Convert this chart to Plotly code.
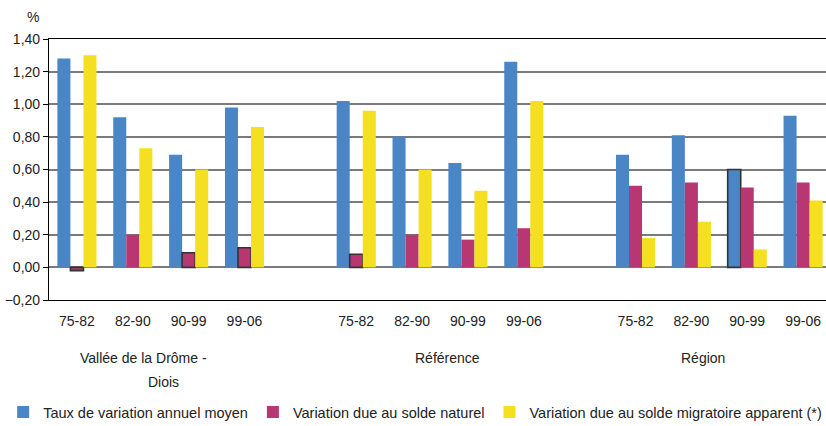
import plotly.graph_objects as go

groups = ["Vallée de la Drôme -<br>Diois", "Référence", "Région"]
periods = ["75-82", "82-90", "90-99", "99-06"]

series_names = [
    "Taux de variation annuel moyen",
    "Variation due au solde naturel",
    "Variation due au solde migratoire apparent (*)",
]

# values per group (Vallée, Référence, Région), each listing the 4 periods
taux_annuel = [1.28, 0.92, 0.69, 0.98,
               1.02, 0.80, 0.64, 1.26,
               0.69, 0.81, 0.60, 0.93]
solde_naturel = [-0.02, 0.20, 0.09, 0.12,
                 0.08, 0.20, 0.17, 0.24,
                 0.50, 0.52, 0.49, 0.52]
solde_migratoire = [1.30, 0.73, 0.60, 0.86,
                    0.96, 0.60, 0.47, 1.02,
                    0.18, 0.28, 0.11, 0.41]

# bars drawn with a dark outline in the original
outlined_taux = [False, False, False, False,
                 False, False, False, False,
                 False, False, True, False]
outlined_naturel = [True, False, True, True,
                    True, False, False, False,
                    False, False, False, False]
outlined_migr = [False] * 12

colors = ["#4a86c6", "#b83772", "#f4e020"]
FONT = "Liberation Sans, Arial, sans-serif"
TXT = "#222222"
FS = 14

# one empty slot between groups
x_pos = [g * (len(periods) + 1) + p for g in range(len(groups)) for p in range(len(periods))]
tick_text = [periods[p] for g in range(len(groups)) for p in range(len(periods))]

fig = go.Figure()
for si, (name, vals, outl, col) in enumerate(zip(series_names,
                                 [taux_annuel, solde_naturel, solde_migratoire],
                                 [outlined_taux, outlined_naturel, outlined_migr],
                                 colors)):
    fig.add_trace(go.Bar(
        x=x_pos, y=vals, name=name, offsetgroup=str(si), legendgroup=str(si),
        showlegend=False,
        marker=dict(color=col,
                    line=dict(color="#333333", width=[1.6 if o else 0 for o in outl])),
    ))
    # plain legend entry (no outline), sharing the same bar slot
    fig.add_trace(go.Bar(
        x=[None], y=[None], name=name, offsetgroup=str(si), legendgroup=str(si),
        showlegend=True, marker=dict(color=col, line=dict(width=0)),
    ))

fig.update_layout(
    width=826, height=426,
    margin=dict(l=49, r=0, t=39, b=126, autoexpand=False),
    paper_bgcolor="white", plot_bgcolor="white",
    barmode="group", bargap=0.3, bargroupgap=0,
    separators=",.",
    font=dict(family=FONT, size=FS, color=TXT),
    showlegend=True,
    legend=dict(orientation="h", x=-0.059, xanchor="left", y=-0.429, yanchor="middle",
                font=dict(family=FONT, size=14.5, color=TXT),
                itemwidth=30, traceorder="normal"),
)

fig.update_xaxes(
    range=[-0.5, 13.41], automargin=False,
    tickmode="array", tickvals=x_pos, ticktext=tick_text,
    showgrid=False, zeroline=False,
    showline=True, linecolor="#000000", linewidth=1.2, mirror=True,
    ticks="", ticklabelstandoff=8,
    tickfont=dict(family=FONT, size=FS, color=TXT),
)
fig.update_yaxes(
    range=[-0.2, 1.4], dtick=0.2, tick0=0, tickformat=".2f", automargin=False,
    showgrid=True, gridcolor="#7a7a7a", gridwidth=1.8,
    zeroline=False,
    showline=True, linecolor="#000000", linewidth=1.2,
    ticks="outside", ticklen=5, tickcolor="#000000",
    tickfont=dict(family=FONT, size=FS, color=TXT),
)

# "%" unit label
fig.add_annotation(text="%", xref="paper", yref="paper", x=(33 - 49) / 777, y=(300 - 17) / 261,
                   xanchor="center", yanchor="middle",
                   showarrow=False, font=dict(family=FONT, size=FS, color=TXT))

# group labels (each line placed separately, as in the original)
group_centers = [(len(periods) - 1) / 2 + g * (len(periods) + 1) for g in range(len(groups))]
line_shift = {0: [-17, 3], 1: [7], 2: [-16]}
for gi, (label, xc) in enumerate(zip(groups, group_centers)):
    for li, line in enumerate(label.split("<br>")):
        fig.add_annotation(text=line, xref="x", yref="paper", x=xc,
                           xshift=line_shift[gi][li], xanchor="center",
                           y=(300 - (358 + 24 * li)) / 261, yanchor="middle",
                           showarrow=False, align="center",
                           font=dict(family=FONT, size=FS, color=TXT))

fig.write_html("out.html", config={"displayModeBar": False},
               post_script="document.body.style.margin='0';document.body.style.overflow='hidden';")
